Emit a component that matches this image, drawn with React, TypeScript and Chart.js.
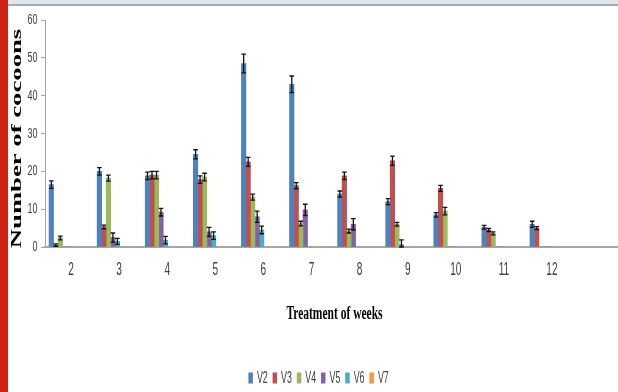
import React, { useEffect, useRef } from "react";
import { Chart, registerables } from "chart.js";

Chart.register(...registerables);

// ---- data ----
const weeks = [2, 3, 4, 5, 6, 7, 8, 9, 10, 11, 12];
const seriesNames = ["V2", "V3", "V4", "V5", "V6", "V7"];
const v2 = [16.5, 20, 18.8, 24.5, 48.5, 43, 14, 12, 8.5, 5.2, 6];
const v3 = [0.5, 5.3, 19, 17.8, 22.5, 16.2, 18.8, 22.8, 15.5, 4.5, 5];
const v4 = [2.4, 18.2, 19, 18.5, 13.2, 6.2, 4.2, 6, 9.5, 3.6, 0];
const v5 = [0, 2.5, 9.2, 4, 8, 9.8, 6, 0.6, 0, 0, 0];
const v6 = [0, 1.5, 1.8, 3, 4.5, 0, 0, 0, 0, 0, 0];
const v7 = [0, 0, 0, 0, 0, 0, 0, 0, 0, 0, 0];
const e2 = [1, 1, 1, 1.2, 2.5, 2.2, 0.8, 0.8, 0.6, 0.5, 0.8];
const e3 = [0.3, 0.5, 1, 1, 1.2, 0.8, 1, 1.2, 0.8, 0.4, 0.4];
const e4 = [0.5, 0.8, 1, 1, 0.8, 0.6, 0.5, 0.5, 1, 0.4, 0];
const e5 = [0, 1.2, 1, 1.2, 1.5, 1.5, 1.5, 1.3, 0, 0, 0];
const e6 = [0, 0.8, 1, 1, 1, 0, 0, 0, 0, 0, 0];
const e7 = [0, 0, 0, 0, 0, 0, 0, 0, 0, 0, 0];
const yTickValues = [0, 10, 20, 30, 40, 50, 60];
const xTitle = "Treatment of weeks";
const yTitle = "Number of cocoons";

const seriesValues = [v2, v3, v4, v5, v6, v7];
const seriesErrors = [e2, e3, e4, e5, e6, e7];
const colors = ["#4f81bd", "#c0504d", "#9bbb59", "#8064a2", "#4bacc6", "#f79646"];

function drawText(
  ctx: CanvasRenderingContext2D,
  text: string,
  x: number,
  y: number,
  font: string,
  scaleX: number,
  align: CanvasTextAlign,
  color: string,
  rotate = 0
) {
  ctx.save();
  ctx.translate(x, y);
  if (rotate) ctx.rotate(rotate);
  ctx.scale(scaleX, 1);
  ctx.font = font;
  ctx.fillStyle = color;
  ctx.textAlign = align;
  ctx.textBaseline = "middle";
  ctx.fillText(text, 0, 0);
  ctx.restore();
}

const errorBarPlugin = {
  id: "errorBars",
  afterDatasetsDraw(chart: any) {
    const ctx = chart.ctx as CanvasRenderingContext2D;
    const y = chart.scales.y;
    ctx.save();
    ctx.strokeStyle = "#111";
    ctx.lineWidth = 1.3;
    chart.data.datasets.forEach((ds: any, di: number) => {
      const meta = chart.getDatasetMeta(di);
      meta.data.forEach((bar: any, i: number) => {
        const v = seriesValues[di][i];
        const e = seriesErrors[di][i];
        if (!e) return;
        const top = y.getPixelForValue(v + e);
        const bot = y.getPixelForValue(Math.max(0, v - e));
        const x = bar.x;
        ctx.beginPath();
        ctx.moveTo(x, top);
        ctx.lineTo(x, bot);
        ctx.moveTo(x - 2.3, top);
        ctx.lineTo(x + 2.3, top);
        ctx.moveTo(x - 2.3, bot);
        ctx.lineTo(x + 2.3, bot);
        ctx.stroke();
      });
    });
    ctx.restore();
  },
};

const textPlugin = {
  id: "condensedText",
  afterDraw(chart: any) {
    const ctx = chart.ctx as CanvasRenderingContext2D;
    const xs = chart.scales.x;
    const ys = chart.scales.y;
    const area = chart.chartArea;
    // y tick labels
    ys.ticks.forEach((t: any) => {
      drawText(ctx, String(t.value), ys.right - 7.5, ys.getPixelForValue(t.value), "15px 'Liberation Sans', sans-serif", 0.6, "right", "#404040");
    });
    // x tick labels (Excel places them offset to the right of the bar group)
    xs.ticks.forEach((t: any) => {
      drawText(ctx, String(t.value), xs.getPixelForValue(t.value) + 8.5, area.bottom + 23, "19px 'Liberation Sans', sans-serif", 0.53, "center", "#404040");
    });
    // axis titles
    drawText(ctx, xTitle, (area.left + area.right) / 2 + 3, area.bottom + 67, "bold 18px 'Liberation Serif', serif", 0.64, "center", "#000");
    drawText(ctx, yTitle, 17, (area.top + area.bottom) / 2 + 5, "bold 15px 'Liberation Serif', serif", 1.78, "center", "#000", -Math.PI / 2);
    // legend
    const items = chart.data.datasets;
    const pitch = 24.2;
    const total = pitch * items.length - 6;
    let lx = chart.width / 2 + 9 - total / 2;
    const ly = 378;
    items.forEach((ds: any) => {
      ctx.fillStyle = ds.backgroundColor;
      ctx.fillRect(lx, ly - 5.5, 4.5, 11);
      drawText(ctx, ds.label, lx + 8.5, ly, "17px 'Liberation Sans', sans-serif", 0.52, "left", "#404040");
      lx += pitch;
    });
  },
};

export default function App() {
  const ref = useRef<HTMLCanvasElement>(null);
  useEffect(() => {
    if (!ref.current) return;
    const chart = new Chart(ref.current, {
      type: "bar",
      data: {
        datasets: seriesNames.map((name, si) => ({
          label: name,
          data: weeks.map((w, i) => ({ x: w, y: seriesValues[si][i] })),
          backgroundColor: colors[si],
          borderWidth: 0,
          barThickness: 4.5,
        })),
      },
      options: {
        animation: false,
        responsive: true,
        maintainAspectRatio: false,
        layout: { padding: { left: 0, right: 0, top: 20, bottom: 0 } },
        plugins: { legend: { display: false }, tooltip: { enabled: false } },
        scales: {
          x: {
            type: "linear",
            min: 1.635,
            max: 13.55,
            offset: false,
            grid: { display: false },
            border: { display: true, color: "#a6a6a6", width: 2 },
            ticks: { display: false },
            afterBuildTicks: (s: any) => {
              s.ticks = weeks.map((w) => ({ value: w }));
            },
            afterFit: (s: any) => {
              s.height = 145;
            },
          },
          y: {
            min: 0,
            max: 60,
            ticks: { display: false, stepSize: 10 },
            afterBuildTicks: (s: any) => {
              s.ticks = yTickValues.map((v) => ({ value: v }));
            },
            grid: { drawOnChartArea: false, drawTicks: true, tickLength: 4, color: "#a6a6a6" },
            border: { display: true, color: "#a6a6a6", width: 1 },
            afterFit: (s: any) => {
              s.width = 45;
            },
          },
        },
      },
      plugins: [errorBarPlugin, textPlugin],
    });
    return () => chart.destroy();
  }, []);

  return (
    <div style={{ position: "fixed", left: 0, top: 0, width: 618, height: 392, background: "#fff", overflow: "hidden" }}>
      <canvas ref={ref} />
      <div style={{ position: "absolute", left: 0, top: 0, width: 618, height: 4, background: "#e1e6ed" }} />
      <div style={{ position: "absolute", left: 0, top: 4, width: 618, height: 2, background: "#a9abb2" }} />
      <div style={{ position: "absolute", left: 0, top: 0, width: 8, height: 392, background: "#d02212" }} />
    </div>
  );
}
